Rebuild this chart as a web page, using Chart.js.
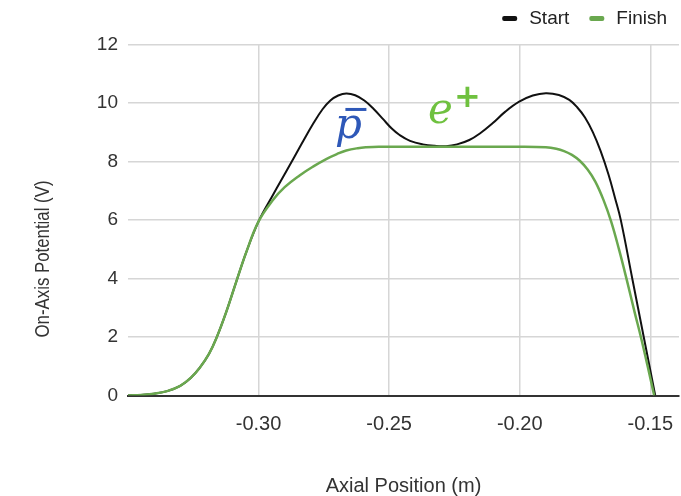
<!DOCTYPE html>
<html>
<head>
<meta charset="utf-8">
<script src="https://cdn.jsdelivr.net/npm/chart.js@4/dist/chart.umd.min.js"></script>
<style>
  html, body { margin: 0; padding: 0; background: #fff; }
  #wrap { width: 681px; height: 496px; }
</style>
</head>
<body>
<div id="wrap"><canvas id="potential"></canvas></div>
<script>
// axial position (m) and on-axis potential (V) of the two well configurations
var startPos = [-0.350, -0.345, -0.340, -0.335, -0.330, -0.326, -0.3225, -0.319, -0.3162, -0.3124, -0.3085, -0.3047,
                -0.300, -0.2945, -0.289, -0.2835, -0.279, -0.2755, -0.2725, -0.2695, -0.2664, -0.263, -0.2595,
                -0.256, -0.2524, -0.249, -0.246, -0.242, -0.2371, -0.2325, -0.2282, -0.224, -0.2193, -0.215,
                -0.2104, -0.2055, -0.2002, -0.195, -0.190, -0.185, -0.181, -0.178, -0.175, -0.172, -0.169,
                -0.166, -0.1635, -0.1613, -0.1569, -0.1525, -0.1481];
var startV   = [0, 0.02, 0.06, 0.15, 0.33, 0.6, 0.95, 1.42, 1.95, 2.85, 3.9, 4.9,
                5.95, 6.85, 7.72, 8.6, 9.3, 9.78, 10.08, 10.25, 10.32, 10.26, 10.08,
                9.8, 9.45, 9.12, 8.9, 8.7, 8.58, 8.53, 8.52, 8.58, 8.73, 8.97,
                9.3, 9.7, 10.04, 10.25, 10.33, 10.27, 10.1, 9.85, 9.5, 9.0, 8.35,
                7.55, 6.75, 6.0, 4.0, 2.0, 0];

var finishPos = [-0.350, -0.345, -0.340, -0.335, -0.330, -0.326, -0.3225, -0.319, -0.3162, -0.3124, -0.3085, -0.3047,
                 -0.300, -0.2945, -0.290, -0.2843, -0.279, -0.2741, -0.270, -0.2664, -0.262, -0.2588, -0.254,
                 -0.240, -0.220, -0.200, -0.190, -0.186, -0.183, -0.180, -0.177, -0.174, -0.171, -0.168,
                 -0.165, -0.162, -0.159, -0.156, -0.1536, -0.151, -0.1485];
var finishV   = [0, 0.02, 0.06, 0.15, 0.33, 0.6, 0.95, 1.42, 1.95, 2.85, 3.9, 4.9,
                 5.95, 6.68, 7.12, 7.52, 7.83, 8.08, 8.25, 8.37, 8.45, 8.48, 8.5,
                 8.5, 8.5, 8.5, 8.48, 8.43, 8.35, 8.22, 8.02, 7.72, 7.3, 6.7,
                 5.95, 5.0, 3.95, 2.85, 2.0, 1.0, 0];

var xTicks = [-0.30, -0.25, -0.20, -0.15];
var yTicks = [0, 2, 4, 6, 8, 10, 12];

function pts(xs, ys) {
  return xs.map(function (x, i) { return { x: x, y: ys[i] }; });
}

// particle labels sit at data coordinates
var marks = {
  pbar: { x: -0.2656, y: 8.8 },
  eplus: { x: -0.2304, y: 9.3 }
};

var extras = {
  id: 'extras',
  afterDraw: function (chart) {
    var c = chart.ctx;
    var xs = chart.scales.x, ys = chart.scales.y;
    c.save();

    // antiproton
    var px = xs.getPixelForValue(marks.pbar.x), py = ys.getPixelForValue(marks.pbar.y);
    c.fillStyle = '#2e58b8';
    c.font = 'italic 42px "DejaVu Serif"';
    c.textAlign = 'center';
    c.textBaseline = 'alphabetic';
    c.fillText('p', px, py);
    c.fillRect(px - 3, py - 30, 21, 3);

    // positron
    var ex = xs.getPixelForValue(marks.eplus.x), ey = ys.getPixelForValue(marks.eplus.y);
    c.fillStyle = '#6fc13f';
    c.fillText('e', ex, ey);
    c.font = 'bold 32px "DejaVu Sans"';
    c.fillText('+', ex + 27, ey - 16);

    // legend, right aligned above the plot
    c.font = '19px "Liberation Sans"';
    c.textAlign = 'left';
    c.textBaseline = 'middle';
    var right = 667, cy = 18.5;
    chart.data.datasets.slice().reverse().forEach(function (ds) {
      var w = c.measureText(ds.label).width;
      var tx = right - w;
      c.fillStyle = '#222';
      c.fillText(ds.label, tx, cy);
      c.fillStyle = ds.borderColor;
      c.beginPath();
      c.roundRect(tx - 27, cy - 2.5, 15, 5, 2);
      c.fill();
      right = tx - 47;
    });

    // y axis title, centred a little below the plot middle
    c.fillStyle = '#333';
    c.font = '20.5px "Liberation Sans"';
    c.textAlign = 'center';
    var tw = c.measureText('On-Axis Potential (V)').width;
    c.translate(43, 259);
    c.rotate(-Math.PI / 2);
    c.scale(157 / tw, 1);
    c.fillText('On-Axis Potential (V)', 0, 0);
    c.restore();
  }
};

var ctx = document.getElementById('potential').getContext('2d');

var chart = new Chart(ctx, {
  type: 'line',
  data: {
    datasets: [{
      label: 'Start',
      data: pts(startPos, startV),
      borderColor: '#111',
      borderWidth: 2,
      pointRadius: 0,
      tension: 0.4,
      order: 1
    }, {
      label: 'Finish',
      data: pts(finishPos, finishV),
      borderColor: '#6aa84f',
      borderWidth: 2.5,
      pointRadius: 0,
      tension: 0.4,
      order: 0
    }]
  },
  options: {
    responsive: true,
    maintainAspectRatio: false,
    animation: false,
    layout: { padding: { left: 0, right: 2, top: 44.3, bottom: 0 } },
    plugins: {
      tooltip: { enabled: false },
      legend: { display: false }
    },
    scales: {
      x: {
        type: 'linear',
        min: -0.35,
        max: -0.139,
        afterBuildTicks: function (s) { s.ticks = xTicks.map(function (v) { return { value: v }; }); },
        afterFit: function (s) { s.height = 100.5; s.paddingLeft = 0; s.paddingRight = 0; },
        ticks: {
          padding: 17,
          color: '#333',
          font: { family: '"Liberation Sans"', size: 20 },
          callback: function (v) { return v.toFixed(2); }
        },
        grid: { color: '#d6d6d6', lineWidth: 1.5, drawTicks: false },
        border: { display: true, color: '#333', width: 2 },
        title: {
          display: true,
          text: 'Axial Position (m)',
          color: '#333',
          font: { family: '"Liberation Sans"', size: 20, lineHeight: 1 },
          padding: 0
        }
      },
      y: {
        min: 0,
        max: 12,
        afterBuildTicks: function (s) { s.ticks = yTicks.map(function (v) { return { value: v }; }); },
        afterFit: function (s) { s.width = 128; s.paddingTop = 0; s.paddingBottom = 0; },
        ticks: {
          padding: 10,
          color: '#333',
          font: { family: '"Liberation Sans"', size: 19 }
        },
        grid: { color: '#d6d6d6', lineWidth: 1.5, drawTicks: false },
        border: { display: false }
      }
    }
  },
  plugins: [extras]
});
</script>
</body>
</html>
